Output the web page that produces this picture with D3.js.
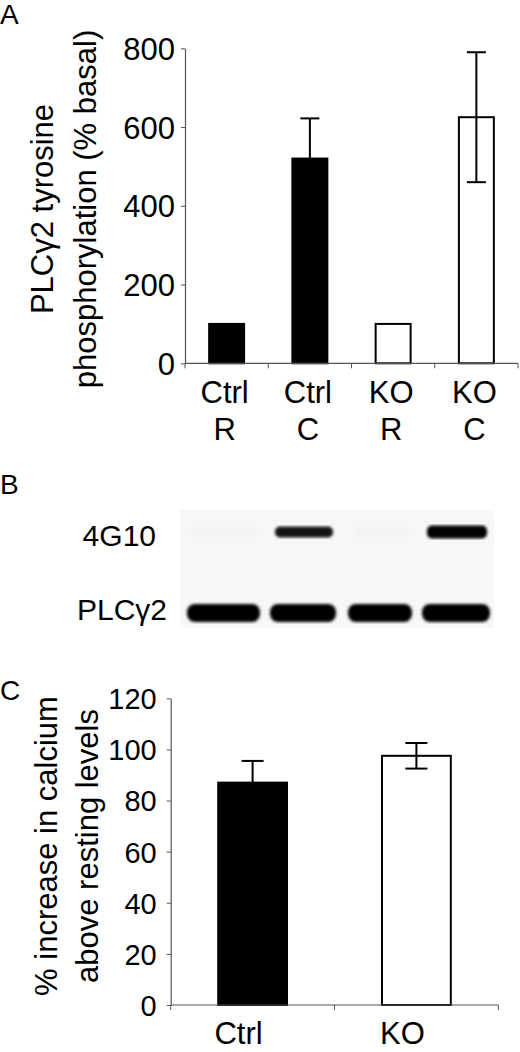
<!DOCTYPE html>
<html>
<head>
<meta charset="utf-8">
<script src="https://cdn.jsdelivr.net/npm/d3@7"></script>
<style>
  body { margin: 0; background: #fff; }
  svg { display: block; font-family: "Liberation Sans", Arial, sans-serif; }
</style>
</head>
<body>
<svg width="520" height="1052"></svg>
<script>
// panel A data
const aCats = [["Ctrl", "R"], ["Ctrl", "C"], ["KO", "R"], ["KO", "C"]];
const aValues = [100, 520, 100, 625];
const aErrors = [0, 102, 0, 165];
const aFilled = [true, true, false, false];
const aTicks = [0, 200, 400, 600, 800];

// panel B blot (relative band strength per lane)
const blotRows = ["4G10", "PLCγ2"];
const blot4G10 = [0.01, 0.92, 0.01, 1];
const blotPLC = [1, 1, 1, 1];

// panel C data
const cCats = ["Ctrl", "KO"];
const cValues = [87, 97.5];
const cErrors = [8.5, 5];
const cFilled = [true, false];
const cTicks = [0, 20, 40, 60, 80, 100, 120];

const svg = d3.select("svg");
const axisColor = "#555";

function barPanel(opt) {
  const g = svg.append("g");
  const x = d3.scaleBand().domain(d3.range(opt.values.length))
    .range([opt.x0, opt.x1]).paddingInner(0.58).paddingOuter(0.29);
  const y = d3.scaleLinear().domain(opt.domain).range([opt.y0, opt.y1]);

  // error bars first (the lower half hides behind filled bars)
  const eb = g.selectAll(".err").data(opt.values).enter().append("g")
    .style("display", (d, i) => opt.errors[i] ? null : "none");
  eb.append("line")
    .attr("x1", (d, i) => x(i) + x.bandwidth() / 2)
    .attr("x2", (d, i) => x(i) + x.bandwidth() / 2)
    .attr("y1", (d, i) => y(d - opt.errors[i]))
    .attr("y2", (d, i) => y(d + opt.errors[i]))
    .attr("stroke", "#000").attr("stroke-width", 2);
  [1, -1].forEach(s => {
    eb.append("line")
      .attr("x1", (d, i) => x(i) + x.bandwidth() / 2 - opt.cap / 2)
      .attr("x2", (d, i) => x(i) + x.bandwidth() / 2 + opt.cap / 2)
      .attr("y1", (d, i) => y(d + s * opt.errors[i]))
      .attr("y2", (d, i) => y(d + s * opt.errors[i]))
      .attr("stroke", "#000").attr("stroke-width", 2);
  });

  g.selectAll(".bar").data(opt.values).enter().append("rect")
    .attr("x", (d, i) => x(i))
    .attr("y", d => y(d))
    .attr("width", x.bandwidth())
    .attr("height", d => y(0) - y(d))
    .attr("fill", (d, i) => opt.filled[i] ? "#000" : "none")
    .attr("stroke", "#000").attr("stroke-width", 2);

  // y axis
  const ya = g.append("g").attr("transform", `translate(${opt.x0},0)`)
    .call(d3.axisLeft(y).tickValues(opt.ticks).tickSize(4).tickSizeOuter(0).tickPadding(opt.tickPad));
  ya.select(".domain").attr("stroke", axisColor).attr("stroke-width", 1.2);
  ya.selectAll(".tick line").attr("stroke", axisColor);
  ya.selectAll("text").attr("font-size", opt.tickFont).attr("fill", "#000")
    .attr("font-family", "Liberation Sans, Arial, sans-serif").attr("dy", "0.36em");

  // x axis with boundary ticks
  const xa = g.append("g").attr("transform", `translate(0,${opt.y0})`);
  xa.append("line").attr("x1", opt.x0).attr("x2", opt.x1)
    .attr("stroke", axisColor).attr("stroke-width", 1.2);
  const step = (opt.x1 - opt.x0) / opt.values.length;
  xa.selectAll(".xt").data(d3.range(opt.values.length + 1)).enter().append("line")
    .attr("x1", i => opt.x0 + i * step).attr("x2", i => opt.x0 + i * step)
    .attr("y1", 0).attr("y2", 5).attr("stroke", axisColor);

  // category labels
  opt.cats.forEach((c, i) => {
    const lines = Array.isArray(c) ? c : [c];
    const cx = x(i) + x.bandwidth() / 2 + opt.labelShift;
    const t = g.append("text")
      .attr("x", cx)
      .attr("y", opt.y0 + opt.labelY)
      .attr("text-anchor", "middle").attr("font-size", opt.labelFont);
    lines.forEach((l, k) => t.append("tspan")
      .attr("x", cx)
      .attr("dy", k ? opt.lineGap : 0).text(l));
  });

  // y title (two lines, rotated)
  opt.title.forEach((l, k) => {
    g.append("text")
      .attr("transform", `translate(${opt.titleX[k]},${opt.titleY}) rotate(-90)`)
      .attr("text-anchor", "middle").attr("font-size", opt.titleFont)
      .text(l);
  });
  return g;
}

// panel letters
[["A", 0, 24], ["B", 0, 494], ["C", 0, 700]].forEach(([t, px, py]) => {
  svg.append("text").attr("x", px).attr("y", py).attr("font-size", 28).text(t);
});

barPanel({
  values: aValues, errors: aErrors, filled: aFilled, cats: aCats,
  domain: [0, 800], ticks: aTicks,
  x0: 185, x1: 518, y0: 363.3, y1: 48.3,
  cap: 19, tickFont: 31, tickPad: 6, labelFont: 31, labelY: 40, lineGap: 37, labelShift: -2,
  title: ["PLCγ2 tyrosine", "phosphorylation (% basal)"],
  titleX: [53, 96], titleY: 209, titleFont: 31
});

// panel B blot
const blot = svg.append("g");
const defs = svg.append("defs");
defs.append("filter").attr("id", "blur").append("feGaussianBlur").attr("stdDeviation", 1.6);
blot.append("rect").attr("x", 180).attr("y", 510).attr("width", 314).attr("height", 118)
  .attr("fill", "#f7f7f7");
const laneX = [[187, 260], [270, 336], [348, 412], [422, 490]];
blot.selectAll(".b1").data(blot4G10).enter().append("rect")
  .attr("x", (d, i) => laneX[i][0] + 5)
  .attr("width", (d, i) => laneX[i][1] - laneX[i][0] - 8)
  .attr("y", (d, i) => 532 - (i === 3 ? 6.5 : 5.5))
  .attr("height", (d, i) => i === 3 ? 13 : 11)
  .attr("rx", 5)
  .attr("fill", "#000").attr("opacity", d => d)
  .attr("filter", "url(#blur)");
blot.selectAll(".b2").data(blotPLC).enter().append("rect")
  .attr("x", (d, i) => laneX[i][0])
  .attr("width", (d, i) => laneX[i][1] - laneX[i][0])
  .attr("y", 604).attr("height", 18).attr("rx", 8)
  .attr("fill", "#000").attr("opacity", d => d)
  .attr("filter", "url(#blur)");
blot.selectAll(".lbl").data(blotRows).enter().append("text")
  .attr("x", (d, i) => i ? 167 : 156)
  .attr("y", (d, i) => i ? 620 : 546)
  .attr("text-anchor", "end").attr("font-size", 30).text(d => d);

barPanel({
  values: cValues, errors: cErrors, filled: cFilled, cats: cCats,
  domain: [0, 120], ticks: cTicks,
  x0: 170.7, x1: 498.3, y0: 1005, y1: 698.3,
  cap: 22, tickFont: 29, tickPad: 10, labelFont: 31, labelY: 39, lineGap: 0, labelShift: -14,
  title: ["% increase in calcium", "above resting levels"],
  titleX: [57, 98], titleY: 846, titleFont: 31
});
</script>
</body>
</html>
